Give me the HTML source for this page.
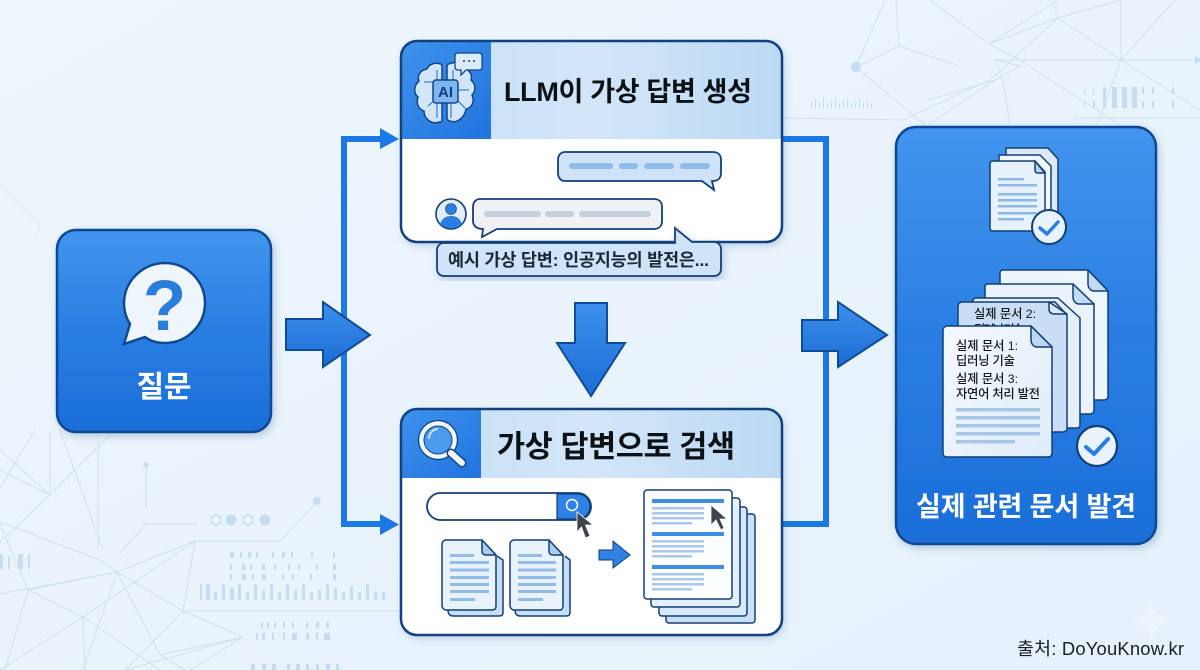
<!DOCTYPE html>
<html lang="ko"><head><meta charset="utf-8"><title>Diagram</title>
<style>
html,body{margin:0;padding:0;width:1200px;height:670px;overflow:hidden;background:#eaf3fb}
svg{display:block;position:absolute;left:0;top:0}
text{font-family:"Liberation Sans","Noto Sans CJK KR",sans-serif}
</style></head><body>
<svg width="1200" height="670" viewBox="0 0 1200 670" xmlns="http://www.w3.org/2000/svg">
<defs>
<linearGradient id="bg" x1="0" y1="0" x2="1" y2="1"><stop offset="0" stop-color="#eef5fc"/><stop offset="1" stop-color="#e5f1fb"/></linearGradient>
<linearGradient id="blue" x1="0" y1="0" x2="0" y2="1"><stop offset="0" stop-color="#4295ed"/><stop offset=".5" stop-color="#2a7ee2"/><stop offset="1" stop-color="#1a6ed8"/></linearGradient>
<linearGradient id="tab" x1="0" y1="0" x2="1" y2="1"><stop offset="0" stop-color="#3f92ec"/><stop offset="1" stop-color="#2173de"/></linearGradient>
<linearGradient id="arr" x1="0" y1="0" x2="0" y2="1"><stop offset="0" stop-color="#3d90ea"/><stop offset="1" stop-color="#1b6dd6"/></linearGradient>
<linearGradient id="head" x1="0" y1="0" x2="1" y2="0"><stop offset="0" stop-color="#c4def6"/><stop offset=".5" stop-color="#d2e6f8"/><stop offset="1" stop-color="#bcd9f4"/></linearGradient>
<linearGradient id="pg" x1="0" y1="0" x2="1" y2="1"><stop offset="0" stop-color="#f4f9fd"/><stop offset="1" stop-color="#dfecf8"/></linearGradient>
<filter id="sh" x="-10%" y="-10%" width="120%" height="120%"><feDropShadow dx="2" dy="3" stdDeviation="4" flood-color="#2c5e94" flood-opacity=".28"/></filter>
<clipPath id="c1"><rect x="401" y="41" width="381" height="201" rx="16"/></clipPath>
<clipPath id="c2"><rect x="401" y="409" width="381" height="226" rx="16"/></clipPath>
</defs>
<rect width="1200" height="670" fill="url(#bg)"/>

<!-- background network -->
<g fill="none" stroke="#c8dcec" stroke-width="1" opacity=".8">
<path d="M0 522 100 560 117 572 183 611 243 637 190 670M0 594 117 572 83 670M50 430 50 495 0 470M35 430 0 488M50 495 0 450M60 430 103 550M98 430V550M115 430 50 495 0 542M117 572 195 541H280L316 503M195 541 183 611H400M117 572 28 590 83 617 160 670M28 590 0 524M28 590 5 670M83 617 85 670M83 617 0 670M195 541 83 617M117 572 160 655 185 670M243 637 125 670M183 611 125 670M183 611 243 637M243 637 160 655"/>
<path d="M120 553 146 524H197"/>
<path d="M0 185 40 225 35 240" stroke-opacity=".5"/>
<path d="M856 67 899 46 957 65M856 67 925 125M856 67 885 0M899 46 896 0M930 0 989 44 1020 60 1120 125M989 44 1058 0M989 44 1058 18 1120 0M1053 0 1058 18 1121 60 1200 110M1058 18 990 80 903 120 782 118M1121 60 1097 125M1121 60 1175 0M1121 60V0M928 100 995 80 1020 66 995 60 1003 80 1010 125M995 80 928 125M995 60H1195M1075 118 1200 118"/>
</g>
<path d="M1195 56 1203 60 1195 64Z" fill="#c3dcf0"/>
<g fill="#c3dcf0">
<circle cx="856" cy="67" r="5"/><circle cx="146" cy="465" r="2.500"/><circle cx="317" cy="501" r="4"/>
<rect x="145.500" y="465" width="1" height="43"/>
<circle cx="231" cy="520" r="5.500"/><circle cx="265" cy="520" r="5.500"/>
</g>
<g fill="none" stroke="#c3dcf0" stroke-width="1.500"><circle cx="216" cy="520" r="5"/><circle cx="248" cy="520" r="5"/></g>
<g fill="#c7dcf1">
<path d="M200 584h2v16h-2zM206 584h4v16h-4zM214 592h3v8h-3zM222 584h3v16h-3zM230 588h4v12h-4zM238 584h3v16h-3zM246 592h3v8h-3zM254 584h3v16h-3zM262 590h3v10h-3zM270 584h3v16h-3zM278 592h3v8h-3zM286 584h3v16h-3zM294 590h3v10h-3zM302 584h3v16h-3zM310 592h3v8h-3zM318 590h3v10h-3zM326 584h3v16h-3zM334 588h3v12h-3zM342 592h3v8h-3zM350 586h3v14h-3zM358 592h3v8h-3zM366 584h3v16h-3zM374 592h3v8h-3zM382 592h3v8h-3z"/>
<path d="M230 552h4v6h-4zM240 552h2v6h-2zM248 552h3v6h-3zM256 552h2v6h-2zM272 552h2v6h-2zM282 552h3v6h-3zM291 552h2v6h-2zM311 552h2v6h-2zM333 552h2v6h-2zM230 564h2v6h-2zM242 564h3v6h-3zM250 564h2v6h-2zM262 564h3v6h-3zM274 564h2v6h-2zM288 564h2v6h-2zM298 564h2v6h-2zM316 564h2v6h-2zM333 564h3v6h-3zM230 574h2v6h-2zM242 574h4v6h-4zM252 574h2v6h-2zM262 574h4v6h-4zM282 574h2v6h-2zM292 574h2v6h-2zM310 574h2v6h-2zM333 574h3v6h-3z"/>
<path d="M261 622h2v6h-2zM267 622h2v6h-2zM274 622h2v6h-2zM283 622h2v6h-2zM292 622h2v6h-2zM306 622h2v6h-2zM316 622h3v6h-3zM326 622h3v6h-3zM256 633h2v7h-2zM262 633h3v7h-3zM272 633h2v7h-2zM283 633h2v7h-2zM292 633h5v7h-5zM306 633h3v7h-3zM316 633h2v7h-2zM324 633h6v7h-6z"/>
<path d="M251 664h4v6h-4zM262 664h4v6h-4zM272 664h4v6h-4zM287 664h3v6h-3zM296 664h4v6h-4zM306 664h3v6h-3zM316 664h3v6h-3zM326 664h4v6h-4zM336 664h3v6h-3z"/>
<path d="M0 554h3v15h-3zM8 556h2v13h-2zM18 554h5v15h-5zM28 554h2v15h-2z"/>
<path d="M1084 87h1v7h-1zM1093 87h1v7h-1zM1103 87h3v15h-3zM1112 87h5v15h-5zM1122 87h5v15h-5zM1132 87h5v15h-5zM1142 87h2v7h-2zM1152 87h2v7h-2zM1172 87h2v7h-2zM1084 101h1v7h-1zM1093 101h2v7h-2zM1103 101h3v7h-3zM1112 101h5v7h-5zM1122 101h5v7h-5zM1132 101h5v7h-5zM1142 101h2v7h-2zM1152 101h2v7h-2zM1172 101h2v7h-2z"/>
<path d="M811 102h1v6h-1zM815 99h1v9h-1zM819 103h1v5h-1zM823 98h1v10h-1zM827 103h1v5h-1zM831 101h1v7h-1zM835 98h1v10h-1zM839 103h1v5h-1zM843 100h1v8h-1zM847 98h1v10h-1zM851 103h1v5h-1zM855 102h1v6h-1zM859 98h1v10h-1zM863 103h1v5h-1zM867 100h1v8h-1zM871 103h1v5h-1z"/>
</g>
<path d="M1151 600c2 12 8 18 21 21-13 3-19 9-21 21-2-12-8-18-21-21 13-3 19-9 21-21Z" fill="#f1f7fd" opacity=".6"/>

<!-- connectors -->
<g fill="none" stroke="#1c78e4" stroke-width="6">
<path d="M344 139V524M341 139H383M341 524H383"/>
<path d="M780 139H826V524H780"/>
</g>
<path d="M380 128 399 139 380 149ZM380 514 399 524.500 380 535Z" fill="#1c78e4"/>

<!-- big arrows -->
<g stroke="#0f4c97" stroke-width="2" fill="url(#arr)" stroke-linejoin="miter">
<path d="M286 319H323V302L370 335 323 367V350H286Z"/>
<path d="M802 320H838V302L887 335 838 367V351H802Z"/>
<path d="M575 303H607V343H625L591 396 557 343H575Z"/>
</g>

<!-- question box -->
<rect x="57" y="230" width="214" height="202" rx="19" fill="url(#blue)" stroke="#0d4a94" stroke-width="2.500" filter="url(#sh)"/>
<path d="M165 263c22 0 40 18 40 40s-18 40-40 40c-8 0-15-2-20-6l-21 7 6-20c-4-6-6-13-6-21 0-22 19-40 41-40Z" fill="#eef5fb" stroke="#0e4a90" stroke-width="2.500"/>
<text x="164.500" y="330" font-size="71" font-weight="700" text-anchor="middle" fill="#2b7ddc">?</text>
<text x="164" y="397" font-size="30" font-weight="700" text-anchor="middle" fill="#fff" textLength="55">질문</text>

<!-- LLM box -->
<g filter="url(#sh)"><rect x="401" y="41" width="381" height="201" rx="16" fill="#fff"/></g>
<g clip-path="url(#c1)">
<rect x="401" y="41" width="381" height="98" fill="url(#head)"/>
<rect x="401" y="41" width="90" height="98" fill="url(#tab)"/>
</g>
<rect x="401" y="41" width="381" height="201" rx="16" fill="none" stroke="#12437f" stroke-width="2.500"/>
<!-- brain icon -->
<g fill="#d3e6f8" stroke="#0f4688" stroke-width="1.500">
<path d="M441 64c-6-2-12 0-14 5-7 1-10 7-8 12-5 4-6 12-1 16-2 6 0 12 6 14 0 8 8 14 15 11 2 1 3-1 3-3V67c0-2-1-3-1-3Z"/>
<path d="M449 64c5-3 11-1 13 4 6 0 11 6 9 12 5 4 5 11 1 15 3 6 0 13-6 14-1 8-9 15-16 12-2 0-3-2-3-4V67c0-2 1-3 2-3Z"/>
</g>
<g fill="none" stroke="#3d86d8" stroke-width="1.300">
<path d="M424 82h10M428 106l6-5M437 70v10M453 70v10M457 90h12M457 100l8 8M451 104v14M437 104v14"/>
</g>
<rect x="433" y="80" width="25" height="23" rx="3" fill="#7db6f0" stroke="#0f4688" stroke-width="1.500"/>
<text x="445.500" y="97" font-size="15" font-weight="700" text-anchor="middle" fill="#123f77">AI</text>
<path d="M458 53h21c2 0 3 1 3 3v11c0 2-1 3-3 3h-13l-5 5v-5h-3c-2 0-3-1-3-3V56c0-2 1-3 3-3Z" fill="#dcebfa" stroke="#0f4688" stroke-width="1.300"/>
<g fill="#123f77"><circle cx="464" cy="61" r="1"/><circle cx="469" cy="61" r="1"/><circle cx="474" cy="61" r="1"/></g>
<text x="504" y="101" font-size="27" font-weight="700" fill="#0c1116" textLength="248">LLM이 가상 답변 생성</text>

<path d="M565 152H713c5 0 8 3 8 8v13c0 5-3 8-8 8h-1l2 9-12-9H565c-4 0-7-3-7-8v-13c0-5 3-8 7-8Z" fill="#cfe3f8" stroke="#123f77" stroke-width="1.800"/>
<g fill="#90bce9"><rect x="569" y="163" width="44" height="6" rx="3"/><rect x="619" y="163" width="19" height="6" rx="3"/><rect x="644" y="163" width="30" height="6" rx="3"/><rect x="680" y="163" width="30" height="6" rx="3"/></g>
<circle cx="451" cy="214" r="15" fill="#e2effb" stroke="#123f77" stroke-width="1.600"/>
<circle cx="451" cy="209" r="5.500" fill="#2a7ee2" stroke="#123f77" stroke-width=".6"/>
<path d="M440 224c2-6 6-8 11-8s9 2 11 8c-3 3-7 4-11 4s-8-1-11-4Z" fill="#2a7ee2"/>
<path d="M480 199H654c5 0 8 3 8 8v14c0 5-3 8-8 8H497l-15 8 1-8c-6 0-10-3-10-8v-14c0-5 3-8 7-8Z" fill="#eff1f4" stroke="#123f77" stroke-width="1.800"/>
<g fill="#c6d0dc"><rect x="484" y="211" width="57" height="6" rx="3"/><rect x="545" y="211" width="29" height="6" rx="3"/><rect x="579" y="211" width="72" height="6" rx="3"/></g>
<g filter="url(#sh)"><path d="M444 243H675V228L692 242H714c4 0 7 3 7 7v20c0 4-3 7-7 7H444c-4 0-7-3-7-7v-19c0-4 3-7 7-7Z" fill="#cfe4f9" stroke="#123f77" stroke-width="1.800"/></g>
<text x="448" y="266" font-size="17.500" font-weight="700" fill="#1b2836" textLength="261">예시 가상 답변: 인공지능의 발전은...</text>

<!-- search box -->
<g filter="url(#sh)"><rect x="401" y="409" width="381" height="226" rx="16" fill="#fff"/></g>
<g clip-path="url(#c2)">
<rect x="401" y="409" width="381" height="69" fill="url(#head)"/>
<rect x="401" y="409" width="80" height="69" fill="url(#tab)"/>
</g>
<rect x="401" y="409" width="381" height="226" rx="16" fill="none" stroke="#12437f" stroke-width="2.500"/>
<circle cx="438" cy="440" r="19.500" fill="none" stroke="#0f4688" stroke-width="1.200"/>
<circle cx="438" cy="440" r="16.500" fill="#4a9aee" stroke="#f1f7fd" stroke-width="4.500"/>
<circle cx="438" cy="440" r="14" fill="none" stroke="#0f4688" stroke-width="1"/>
<path d="M451 453 462 463" stroke="#0f4688" stroke-width="9" stroke-linecap="round"/>
<path d="M451 453 462 463" stroke="#f1f7fd" stroke-width="6" stroke-linecap="round"/>
<path d="M429 439c0-6 4-10 9-10" fill="none" stroke="#cfe5fa" stroke-width="2"/>
<text x="497" y="457" font-size="30.500" font-weight="700" fill="#0c1116" textLength="238">가상 답변으로 검색</text>

<rect x="427" y="493" width="164" height="27" rx="13.500" fill="#fff" stroke="#123f77" stroke-width="1.800"/>
<path d="M557 494H577.500C585 494 590 500 590 506.500S585 519 577.500 519H557Z" fill="#2f82e4" stroke="#123f77" stroke-width="1.200"/>
<circle cx="572" cy="505" r="5.500" fill="none" stroke="#fff" stroke-width="1.500"/>
<path d="M577 512V532L581.500 527 585.500 538 590 536 585.500 525 593 525Z" fill="#3d444c" stroke="#fff" stroke-width=".8"/>

<!-- small docs -->
<g stroke="#123f77" stroke-width="1.500" stroke-linejoin="round">
<path d="M497 556 503 560V612c0 3-1 4-4 4H453c-3 0-5-2-5-6" fill="#c6def6"/>
<path d="M565 556 570 560V612c0 3-1 4-4 4H520c-3 0-5-2-5-6" fill="#c6def6"/>
<path d="M446 540H482L496 555V606c0 2-1 4-4 4H446c-2 0-4-2-4-4V544c0-2 2-4 4-4Z" fill="#e8f2fb"/>
<path d="M482 540V551c0 3 2 4 4 4H496Z" fill="#a9cdf0"/>
<path d="M514 540H549L563 555V606c0 2-1 4-3 4H514c-2 0-4-2-4-4V544c0-2 2-4 4-4Z" fill="#e8f2fb"/>
<path d="M549 540V551c0 3 2 4 4 4H563Z" fill="#a9cdf0"/>
</g>
<g fill="#93bce8">
<rect x="450" y="554" width="24" height="3"/><rect x="450" y="561" width="39" height="3"/><rect x="450" y="568.500" width="39" height="3"/><rect x="450" y="576" width="39" height="3"/><rect x="450" y="583" width="39" height="3"/><rect x="450" y="590" width="39" height="3"/><rect x="450" y="598" width="25" height="3"/>
<rect x="518" y="554" width="24" height="3"/><rect x="518" y="561" width="38" height="3"/><rect x="518" y="568.500" width="38" height="3"/><rect x="518" y="576" width="38" height="3"/><rect x="518" y="583" width="38" height="3"/><rect x="518" y="590" width="38" height="3"/><rect x="518" y="598" width="25" height="3"/>
</g>
<path d="M599 550H613V541L630 555 613 568V560H599Z" fill="#2f82e4" stroke="#123f77" stroke-width="1"/>

<!-- result stack -->
<g stroke="#123f77" stroke-width="1.500">
<rect x="666" y="514" width="89" height="109" rx="3" fill="#c9e0f7"/>
<rect x="659" y="507" width="88" height="109" rx="3" fill="#d7e8f9"/>
<rect x="651" y="498" width="89" height="109" rx="3" fill="#e3effb"/>
<rect x="644" y="490" width="88" height="109" rx="3" fill="#fbfdff"/>
</g>
<g fill="#3f8ee6"><rect x="652" y="499" width="72" height="4"/><rect x="652" y="532" width="72" height="4"/><rect x="652" y="565" width="72" height="4"/></g>
<g fill="#a9c8ea">
<rect x="652" y="507" width="52" height="2.500"/><rect x="652" y="512" width="52" height="2.500"/><rect x="652" y="517" width="52" height="2.500"/><rect x="652" y="522" width="40" height="2.500"/>
<rect x="652" y="540" width="52" height="2.500"/><rect x="652" y="545" width="52" height="2.500"/><rect x="652" y="550" width="52" height="2.500"/><rect x="652" y="555" width="40" height="2.500"/>
<rect x="652" y="573" width="52" height="2.500"/><rect x="652" y="578" width="52" height="2.500"/><rect x="652" y="583" width="52" height="2.500"/><rect x="652" y="588" width="40" height="2.500"/>
</g>
<path d="M711 505V525L716 520 721 530 724 528 720 519 727 519Z" fill="#3d444c" stroke="#fff" stroke-width=".8"/>

<!-- right box -->
<rect x="896" y="127" width="260" height="417" rx="20" fill="url(#blue)" stroke="#0d4a94" stroke-width="2.500" filter="url(#sh)"/>
<g stroke="#123f77" stroke-width="1.500" stroke-linejoin="round">
<path d="M1006 148H1048L1058 159V212c0 2-1 3-3 3H1006Z" fill="#dbeafa"/>
<path d="M999 155H1040L1051 166V218c0 2-1 3-3 3H999Z" fill="#f1f7fd"/>
<path d="M993 161H1035L1045 172V228c0 2-1 3-3 3H993c-2 0-3-1-3-3V164c0-2 1-3 3-3Z" fill="#e6f1fb"/>
<path d="M1035 161V170c0 2 1 3 3 3H1045Z" fill="#b6d4f2"/>
</g>
<g fill="#8db8e6"><rect x="998" y="178" width="26" height="2.500"/><rect x="998" y="184" width="39" height="2.500"/><rect x="998" y="193" width="39" height="2.500"/><rect x="998" y="199" width="39" height="2.500"/><rect x="998" y="205" width="39" height="2.500"/><rect x="998" y="212" width="39" height="2.500"/><rect x="998" y="218" width="26" height="2.500"/></g>
<circle cx="1049" cy="227" r="17" fill="#e9f3fc" stroke="#123f77" stroke-width="2"/>
<path d="M1040 228 1047 234 1058 222" fill="none" stroke="#2a7ee2" stroke-width="3.500" stroke-linecap="round" stroke-linejoin="round"/>

<g stroke="#123f77" stroke-width="1.500" stroke-linejoin="round">
<path d="M1003 270H1088L1108 291V396c0 2-1 4-4 4H1003c-2 0-3-2-3-4V273c0-2 1-3 3-3Z" fill="#eef6fd"/>
<path d="M1088 270V284c0 4 3 7 6 7H1108Z" fill="#c3dbf3"/>
<path d="M988 284H1073L1094 304V410c0 2-1 4-4 4H988c-2 0-3-2-3-4V287c0-2 1-3 3-3Z" fill="#eaf3fc"/>
<path d="M1073 284V297c0 4 3 7 6 7H1094Z" fill="#c3dbf3"/>
<path d="M976 298H1058L1080 318V425c0 2-1 3-3 3H976c-2 0-3-1-3-3V301c0-2 1-3 3-3Z" fill="#e4effa"/>
<path d="M962 302H1055L1067 315V428c0 2-1 4-4 4H962c-2 0-4-2-4-4V306c0-2 2-4 4-4Z" fill="#c9def5"/>
<path d="M1049 302V309c0 4 3 5 6 5H1067Z" fill="#dcebfa"/>
</g>
<text x="974" y="318" font-size="12.300" font-weight="500" fill="#15191e" textLength="62">실제 문서 2:</text>
<text x="974" y="334" font-size="12.300" font-weight="500" fill="#15191e" textLength="50">딥러닝 기술</text>
<g stroke="#123f77" stroke-width="1.500" stroke-linejoin="round">
<path d="M947 326H1031L1052 347V453c0 3-2 4-4 4H947c-2 0-4-1-4-4V330c0-2 2-4 4-4Z" fill="url(#pg)"/>
<path d="M1031 326V340c0 4 3 7 6 7H1052Z" fill="#bcd7f2"/>
</g>
<g font-size="12.300" font-weight="500" fill="#14181d">
<text x="956" y="350" textLength="62">실제 문서 1:</text>
<text x="956" y="365" textLength="59">딥러닝 기술</text>
<text x="956" y="383" textLength="62">실제 문서 3:</text>
<text x="956" y="398" textLength="84">자연어 처리 발전</text>
</g>
<g fill="#a6c7e9"><rect x="956" y="408" width="84" height="3.500"/><rect x="956" y="416" width="84" height="3.500"/><rect x="956" y="424" width="84" height="3.500"/><rect x="956" y="432" width="84" height="3.500"/><rect x="956" y="440" width="59" height="3.500"/></g>
<circle cx="1097" cy="446" r="20" fill="#e9f3fc" stroke="#123f77" stroke-width="2.200"/>
<path d="M1086 447 1094 454 1108 439" fill="none" stroke="#2a7ee2" stroke-width="4" stroke-linecap="round" stroke-linejoin="round"/>
<text x="916" y="516" font-size="27" font-weight="700" fill="#fff" textLength="220">실제 관련 문서 발견</text>

<text x="1017" y="655" font-size="18.400" fill="#1a2026" textLength="167">출처: DoYouKnow.kr</text>
</svg>
</body></html>
